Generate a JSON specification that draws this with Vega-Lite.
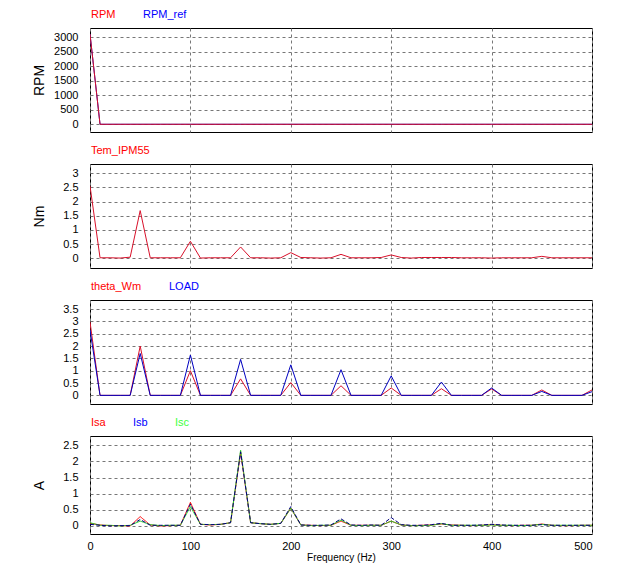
{
  "$schema": "https://vega.github.io/schema/vega-lite/v6.json",
  "padding": {"left": 31, "top": 8, "right": 5, "bottom": 5},
  "background": "white",
  "config": {
    "font": "Liberation Sans",
    "view": {"stroke": "#000", "strokeWidth": 1},
    "axis": {"gridColor": "#777", "gridDash": [3, 3], "gridOpacity": 1, "gridWidth": 1, "labelFontSize": 11, "labelColor": "#000", "titleColor": "#000", "titleFontWeight": "normal", "ticks": false, "domain": false},
    "legend": {"orient": "none", "legendX": -10, "legendY": -19, "direction": "horizontal", "title": null, "symbolSize": 0, "symbolStrokeWidth": 0, "symbolOpacity": 0, "labelFontSize": 11, "labelOffset": 0, "columnPadding": 16, "padding": 0}
  },
  "spacing": 32,
  "bounds": "flush",
  "resolve": {"scale": {"color": "independent", "y": "independent", "strokeDash": "independent"}, "legend": {"color": "independent"}},
  "datasets": {
    "p1": [
      {"f":0,"RPM":3100,"RPM_ref":3100},{"f":10,"RPM":0,"RPM_ref":0},{"f":20,"RPM":0,"RPM_ref":0},{"f":30,"RPM":0,"RPM_ref":0},{"f":40,"RPM":0,"RPM_ref":0},{"f":50,"RPM":0,"RPM_ref":0},
      {"f":60,"RPM":0,"RPM_ref":0},{"f":70,"RPM":0,"RPM_ref":0},{"f":80,"RPM":0,"RPM_ref":0},{"f":90,"RPM":0,"RPM_ref":0},{"f":100,"RPM":0,"RPM_ref":0},
      {"f":150,"RPM":0,"RPM_ref":0},{"f":200,"RPM":0,"RPM_ref":0},{"f":250,"RPM":0,"RPM_ref":0},{"f":300,"RPM":0,"RPM_ref":0},{"f":350,"RPM":0,"RPM_ref":0},
      {"f":400,"RPM":0,"RPM_ref":0},{"f":450,"RPM":0,"RPM_ref":0},{"f":500,"RPM":0,"RPM_ref":0}
    ],
    "p2": [
      {"f":0,"Tem_IPM55":2.55},{"f":10,"Tem_IPM55":0.02},{"f":20,"Tem_IPM55":0.02},{"f":30,"Tem_IPM55":0.01},{"f":40,"Tem_IPM55":0.04},{"f":50,"Tem_IPM55":1.68},
      {"f":60,"Tem_IPM55":0.02},{"f":70,"Tem_IPM55":0.02},{"f":80,"Tem_IPM55":0.02},{"f":90,"Tem_IPM55":0.02},{"f":100,"Tem_IPM55":0.6},
      {"f":110,"Tem_IPM55":0.01},{"f":120,"Tem_IPM55":0.02},{"f":130,"Tem_IPM55":0.02},{"f":140,"Tem_IPM55":0.02},{"f":150,"Tem_IPM55":0.4},
      {"f":160,"Tem_IPM55":0.02},{"f":170,"Tem_IPM55":0.02},{"f":180,"Tem_IPM55":0.01},{"f":190,"Tem_IPM55":0.02},{"f":200,"Tem_IPM55":0.2},
      {"f":210,"Tem_IPM55":0.03},{"f":220,"Tem_IPM55":0.02},{"f":230,"Tem_IPM55":0.01},{"f":240,"Tem_IPM55":0.02},{"f":250,"Tem_IPM55":0.14},
      {"f":260,"Tem_IPM55":0.02},{"f":270,"Tem_IPM55":0.02},{"f":280,"Tem_IPM55":0.02},{"f":290,"Tem_IPM55":0.03},{"f":300,"Tem_IPM55":0.12},
      {"f":310,"Tem_IPM55":0.03},{"f":320,"Tem_IPM55":0.01},{"f":330,"Tem_IPM55":0.03},{"f":340,"Tem_IPM55":0.03},{"f":350,"Tem_IPM55":0.03},
      {"f":360,"Tem_IPM55":0.03},{"f":370,"Tem_IPM55":0.02},{"f":380,"Tem_IPM55":0.02},{"f":390,"Tem_IPM55":0.02},{"f":400,"Tem_IPM55":0.01},
      {"f":410,"Tem_IPM55":0.02},{"f":420,"Tem_IPM55":0.02},{"f":430,"Tem_IPM55":0.02},{"f":440,"Tem_IPM55":0.02},{"f":450,"Tem_IPM55":0.07},
      {"f":460,"Tem_IPM55":0.02},{"f":470,"Tem_IPM55":0.02},{"f":480,"Tem_IPM55":0.02},{"f":490,"Tem_IPM55":0.02},{"f":500,"Tem_IPM55":0.02}
    ],
    "p3": [
      {"f":0,"theta_Wm":2.98,"LOAD":2.65},{"f":10,"theta_Wm":0,"LOAD":0},{"f":20,"theta_Wm":0,"LOAD":0},{"f":30,"theta_Wm":0,"LOAD":0},{"f":40,"theta_Wm":0,"LOAD":0},
      {"f":50,"theta_Wm":2.0,"LOAD":1.7},{"f":60,"theta_Wm":0,"LOAD":0},{"f":70,"theta_Wm":0,"LOAD":0},{"f":80,"theta_Wm":0,"LOAD":0},{"f":90,"theta_Wm":0,"LOAD":0},
      {"f":100,"theta_Wm":1.0,"LOAD":1.64},{"f":110,"theta_Wm":0,"LOAD":0},{"f":120,"theta_Wm":0,"LOAD":0},{"f":130,"theta_Wm":0,"LOAD":0},{"f":140,"theta_Wm":0,"LOAD":0},
      {"f":150,"theta_Wm":0.67,"LOAD":1.46},{"f":160,"theta_Wm":0,"LOAD":0},{"f":170,"theta_Wm":0,"LOAD":0},{"f":180,"theta_Wm":0,"LOAD":0},{"f":190,"theta_Wm":0,"LOAD":0},
      {"f":200,"theta_Wm":0.52,"LOAD":1.24},{"f":210,"theta_Wm":0,"LOAD":0},{"f":220,"theta_Wm":0,"LOAD":0},{"f":230,"theta_Wm":0,"LOAD":0},{"f":240,"theta_Wm":0,"LOAD":0},
      {"f":250,"theta_Wm":0.39,"LOAD":1.04},{"f":260,"theta_Wm":0,"LOAD":0},{"f":270,"theta_Wm":0,"LOAD":0},{"f":280,"theta_Wm":0,"LOAD":0},{"f":290,"theta_Wm":0,"LOAD":0},
      {"f":300,"theta_Wm":0.3,"LOAD":0.79},{"f":310,"theta_Wm":0,"LOAD":0},{"f":320,"theta_Wm":0,"LOAD":0},{"f":330,"theta_Wm":0,"LOAD":0},{"f":340,"theta_Wm":0,"LOAD":0},
      {"f":350,"theta_Wm":0.27,"LOAD":0.54},{"f":360,"theta_Wm":0,"LOAD":0},{"f":370,"theta_Wm":0,"LOAD":0},{"f":380,"theta_Wm":0,"LOAD":0},{"f":390,"theta_Wm":0,"LOAD":0},
      {"f":400,"theta_Wm":0.26,"LOAD":0.3},{"f":410,"theta_Wm":0,"LOAD":0},{"f":420,"theta_Wm":0,"LOAD":0},{"f":430,"theta_Wm":0,"LOAD":0},{"f":440,"theta_Wm":0,"LOAD":0},
      {"f":450,"theta_Wm":0.22,"LOAD":0.16},{"f":460,"theta_Wm":0,"LOAD":0},{"f":470,"theta_Wm":0,"LOAD":0},{"f":480,"theta_Wm":0,"LOAD":0},{"f":490,"theta_Wm":0,"LOAD":0},
      {"f":500,"theta_Wm":0.22,"LOAD":0.15}
    ],
    "p4": [
      {"f":0,"Isa":0.08,"Isb":0.05,"Isc":0.1},{"f":10,"Isa":0.03,"Isb":0.02,"Isc":0.02},{"f":20,"Isa":0.01,"Isb":0.0,"Isc":0.02},{"f":30,"Isa":0.01,"Isb":0.01,"Isc":0.0},
      {"f":40,"Isa":0.0,"Isb":0.01,"Isc":0.02},{"f":50,"Isa":0.29,"Isb":0.2,"Isc":0.15},{"f":60,"Isa":0.03,"Isb":0.02,"Isc":0.04},{"f":70,"Isa":0.0,"Isb":0.02,"Isc":0.01},
      {"f":80,"Isa":0.01,"Isb":0.02,"Isc":0.02},{"f":90,"Isa":0.02,"Isb":0.02,"Isc":0.02},{"f":100,"Isa":0.73,"Isb":0.68,"Isc":0.6},{"f":110,"Isa":0.05,"Isb":0.05,"Isc":0.05},
      {"f":120,"Isa":0.03,"Isb":0.04,"Isc":0.04},{"f":130,"Isa":0.05,"Isb":0.05,"Isc":0.05},{"f":140,"Isa":0.1,"Isb":0.1,"Isc":0.1},{"f":150,"Isa":2.28,"Isb":2.3,"Isc":2.35},
      {"f":160,"Isa":0.1,"Isb":0.1,"Isc":0.1},{"f":170,"Isa":0.07,"Isb":0.07,"Isc":0.07},{"f":180,"Isa":0.05,"Isb":0.05,"Isc":0.05},{"f":190,"Isa":0.08,"Isb":0.08,"Isc":0.08},
      {"f":200,"Isa":0.55,"Isb":0.6,"Isc":0.55},{"f":210,"Isa":0.03,"Isb":0.03,"Isc":0.03},{"f":220,"Isa":0.02,"Isb":0.02,"Isc":0.01},{"f":230,"Isa":0.01,"Isb":0.02,"Isc":0.02},
      {"f":240,"Isa":0.02,"Isb":0.03,"Isc":0.02},{"f":250,"Isa":0.15,"Isb":0.22,"Isc":0.18},{"f":260,"Isa":0.02,"Isb":0.03,"Isc":0.02},{"f":270,"Isa":0.02,"Isb":0.02,"Isc":0.01},
      {"f":280,"Isa":0.02,"Isb":0.03,"Isc":0.02},{"f":290,"Isa":0.02,"Isb":0.02,"Isc":0.02},{"f":300,"Isa":0.15,"Isb":0.26,"Isc":0.15},{"f":310,"Isa":0.03,"Isb":0.04,"Isc":0.03},
      {"f":320,"Isa":0.01,"Isb":0.02,"Isc":0.01},{"f":330,"Isa":0.02,"Isb":0.02,"Isc":0.01},{"f":340,"Isa":0.03,"Isb":0.04,"Isc":0.02},{"f":350,"Isa":0.06,"Isb":0.08,"Isc":0.07},
      {"f":360,"Isa":0.03,"Isb":0.02,"Isc":0.02},{"f":370,"Isa":0.02,"Isb":0.02,"Isc":0.02},{"f":380,"Isa":0.01,"Isb":0.02,"Isc":0.02},{"f":390,"Isa":0.02,"Isb":0.03,"Isc":0.02},
      {"f":400,"Isa":0.04,"Isb":0.05,"Isc":0.03},{"f":410,"Isa":0.02,"Isb":0.03,"Isc":0.02},{"f":420,"Isa":0.01,"Isb":0.02,"Isc":0.02},{"f":430,"Isa":0.02,"Isb":0.02,"Isc":0.01},
      {"f":440,"Isa":0.02,"Isb":0.02,"Isc":0.02},{"f":450,"Isa":0.06,"Isb":0.04,"Isc":0.05},{"f":460,"Isa":0.02,"Isb":0.02,"Isc":0.02},{"f":470,"Isa":0.01,"Isb":0.02,"Isc":0.02},
      {"f":480,"Isa":0.01,"Isb":0.02,"Isc":0.02},{"f":490,"Isa":0.02,"Isb":0.02,"Isc":0.02},{"f":500,"Isa":0.02,"Isb":0.02,"Isc":0.02}
    ]
  },
  "vconcat": [
    {
      "width": 502, "height": 104,
      "data": {"name": "p1"},
      "transform": [{"fold": ["RPM_ref", "RPM"], "as": ["s", "v"]}],
      "mark": {"type": "line", "strokeWidth": 1, "clip": true},
      "encoding": {
        "x": {"field": "f", "type": "quantitative", "scale": {"domain": [0, 500], "nice": false}, "axis": {"values": [0,100,200,300,400,500], "labels": false, "title": null}},
        "y": {"field": "v", "type": "quantitative", "scale": {"domain": [-265, 3310], "nice": false, "zero": false}, "axis": {"values": [0,500,1000,1500,2000,2500,3000], "format": "d", "labelPadding": 12, "title": "RPM", "titleFontSize": 14, "titleX": -44}},
        "color": {"field": "s", "type": "nominal", "scale": {"domain": ["RPM", "RPM_ref"], "range": ["#d8102a", "#0000c8"]}, "legend": {"labelColor": {"expr": "datum.value == 'RPM' ? '#ff0000' : '#0000ff'"}}}
      }
    },
    {
      "width": 502, "height": 104,
      "data": {"name": "p2"},
      "transform": [{"fold": ["Tem_IPM55"], "as": ["s", "v"]}],
      "mark": {"type": "line", "strokeWidth": 1, "clip": true},
      "encoding": {
        "x": {"field": "f", "type": "quantitative", "scale": {"domain": [0, 500], "nice": false}, "axis": {"values": [0,100,200,300,400,500], "labels": false, "title": null}},
        "y": {"field": "v", "type": "quantitative", "scale": {"domain": [-0.34, 3.32], "nice": false, "zero": false}, "axis": {"values": [0,0.5,1,1.5,2,2.5,3], "format": "~g", "labelPadding": 12, "title": "Nm", "titleFontSize": 14, "titleX": -44}},
        "color": {"field": "s", "type": "nominal", "scale": {"domain": ["Tem_IPM55"], "range": ["#d8102a"]}, "legend": {"labelColor": "#ff0000"}}
      }
    },
    {
      "width": 502, "height": 104,
      "data": {"name": "p3"},
      "transform": [{"fold": ["theta_Wm", "LOAD"], "as": ["s", "v"]}],
      "mark": {"type": "line", "strokeWidth": 1, "clip": true},
      "encoding": {
        "x": {"field": "f", "type": "quantitative", "scale": {"domain": [0, 500], "nice": false}, "axis": {"values": [0,100,200,300,400,500], "labels": false, "title": null}},
        "y": {"field": "v", "type": "quantitative", "scale": {"domain": [-0.35, 3.87], "nice": false, "zero": false}, "axis": {"values": [0,0.5,1,1.5,2,2.5,3,3.5], "format": "~g", "labelPadding": 12, "title": null}},
        "color": {"field": "s", "type": "nominal", "scale": {"domain": ["theta_Wm", "LOAD"], "range": ["#d8102a", "#0000c0"]}, "legend": {"labelColor": {"expr": "datum.value == 'theta_Wm' ? '#ff0000' : '#0000ff'"}}}
      }
    },
    {
      "width": 502, "height": 98,
      "data": {"name": "p4"},
      "transform": [{"fold": ["Isa", "Isc", "Isb"], "as": ["s", "v"]}],
      "mark": {"type": "line", "strokeWidth": 1, "clip": true},
      "encoding": {
        "x": {"field": "f", "type": "quantitative", "scale": {"domain": [0, 500], "nice": false}, "axis": {"values": [0,100,200,300,400,500], "labelPadding": 6, "labelAlign": {"condition": {"test": "datum.value >= 500", "value": "right"}, "value": "center"}, "title": "Frequency (Hz)", "titleFontSize": 10, "titlePadding": 1}},
        "y": {"field": "v", "type": "quantitative", "scale": {"domain": [-0.25, 2.79], "nice": false, "zero": false}, "axis": {"values": [0,0.5,1,1.5,2,2.5], "format": "~g", "labelPadding": 12, "title": "A", "titleFontSize": 14, "titleX": -44}},
        "color": {"field": "s", "type": "nominal", "scale": {"domain": ["Isa", "Isb", "Isc"], "range": ["#ff0000", "#000080", "#20d020"]}, "legend": {"labelColor": {"expr": "datum.value == 'Isa' ? '#ff0000' : datum.value == 'Isb' ? '#0000ff' : '#40ff40'"}}},
        "strokeDash": {"field": "s", "type": "nominal", "scale": {"domain": ["Isa", "Isb", "Isc"], "range": [[1, 0], [4, 2], [1, 0]]}, "legend": null}
      }
    }
  ]
}
